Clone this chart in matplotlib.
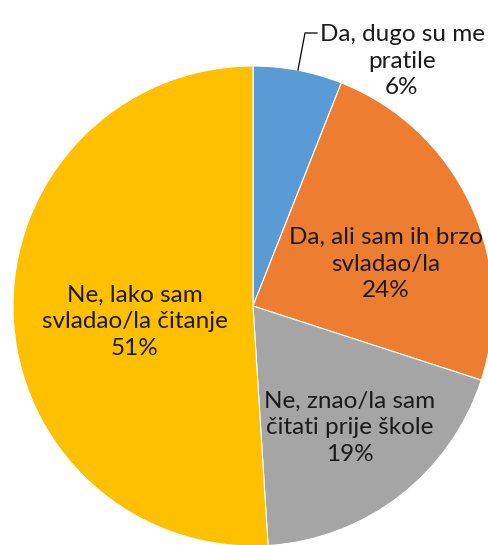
import matplotlib.pyplot as plt

# data
labels = ['Da, dugo su me\npratile', 'Da, ali sam ih brzo\nsvladao/la',
          'Ne, znao/la sam\nčitati prije škole', 'Ne, lako sam\nsvladao/la čitanje']
shares = [6, 24, 19, 51]
colors = ['#5B9BD5', '#ED7D31', '#A5A5A5', '#FFC000']

W, H = 489, 545
fig = plt.figure(figsize=(W / 100, H / 100), dpi=100)
ax = fig.add_axes([0, 0, 1, 1])

cx, cy, r = 253, H - 306, 240
ax.pie(shares, colors=colors, startangle=90, counterclock=False,
       center=(cx, cy), radius=r, frame=True,
       wedgeprops=dict(edgecolor='white', linewidth=0.8))
ax.set_xlim(0, W)
ax.set_ylim(0, H)
ax.set_aspect('equal')
ax.axis('off')

# label positions in pixels (x, y from top)
label_pos = [(402, 61), (386, 264), (350, 428), (135, 322)]
for lab, val, (x, y) in zip(labels, shares, label_pos):
    ax.text(x, H - y, f'{lab}\n{val}%', ha='center', va='center',
            fontsize=17.5, family='Lato', linespacing=1.32, color='#1a1a1a')

# leader line for the small slice
ax.plot([317, 305, 298], [H - 33, H - 33, H - 70], color='black', lw=0.9)

fig.savefig('out.png', dpi=100)
